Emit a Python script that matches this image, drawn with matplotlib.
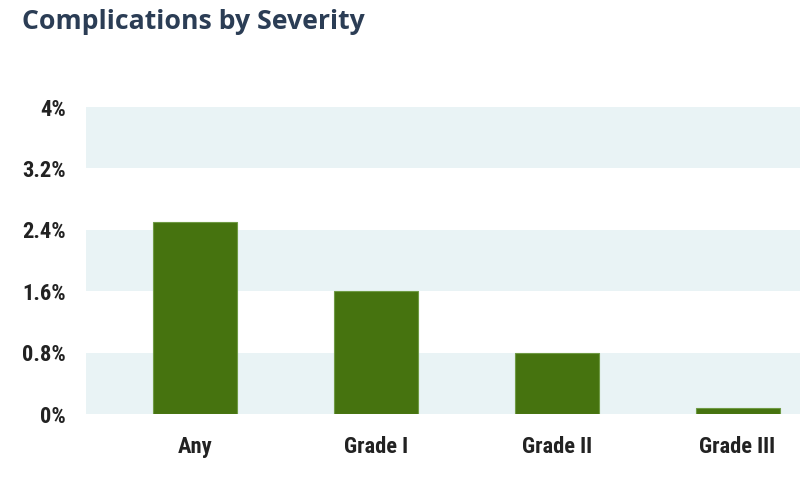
import matplotlib
matplotlib.use("Agg")
import matplotlib.pyplot as plt
from matplotlib import font_manager as fm

categories = ["Any", "Grade I", "Grade II", "Grade III"]
values = [2.5, 1.6, 0.8, 0.08]
yticks = [0, 0.8, 1.6, 2.4, 3.2, 4.0]
ytick_labels = ["0%", "0.8%", "1.6%", "2.4%", "3.2%", "4%"]

fonts = {}
for f in fm.fontManager.ttflist:
    fonts.setdefault(f.name, set()).add(f.weight)
tick_font = "Roboto"
for cand in ["Archivo Narrow", "Roboto Condensed", "Asap Condensed", "Barlow Semi Condensed"]:
    w = fonts.get(cand, set())
    if any((isinstance(v, int) and v >= 700) or v == "bold" for v in w):
        tick_font = cand
        break

fig = plt.figure(figsize=(8, 4.92), dpi=100)
ax = fig.add_axes([0.1075, 0.1585, 0.8925, 0.624])

band = "#e9f3f5"
for i in range(0, len(yticks) - 1, 2):
    ax.axhspan(yticks[i], yticks[i + 1], color=band, zorder=0, lw=0)

x = list(range(len(categories)))
ax.bar(x, values, width=0.464, color="#46730f", edgecolor="#6f9a45", linewidth=0.8, zorder=2)

ax.set_xlim(-0.6, 3.345)
ax.set_ylim(0, 4.0)
ax.set_yticks(yticks)
ax.set_yticklabels(ytick_labels)
ax.set_xticks(x)
ax.set_xticklabels(categories)
for s in ax.spines.values():
    s.set_visible(False)
ax.tick_params(axis="both", length=0)
ax.tick_params(axis="y", pad=14.4)
ax.tick_params(axis="x", pad=16)
for lab in ax.get_yticklabels() + ax.get_xticklabels():
    lab.set_fontfamily(tick_font)
    lab.set_fontweight("bold")
    lab.set_fontsize(16.2)
    lab.set_color("#222222")

fig.text(0.0275, 0.955, "Complications by Severity", fontfamily="Open Sans",
         fontweight="bold", fontsize=19.2, color="#2b3d55", va="center", ha="left")

fig.savefig("out.png", dpi=100)
